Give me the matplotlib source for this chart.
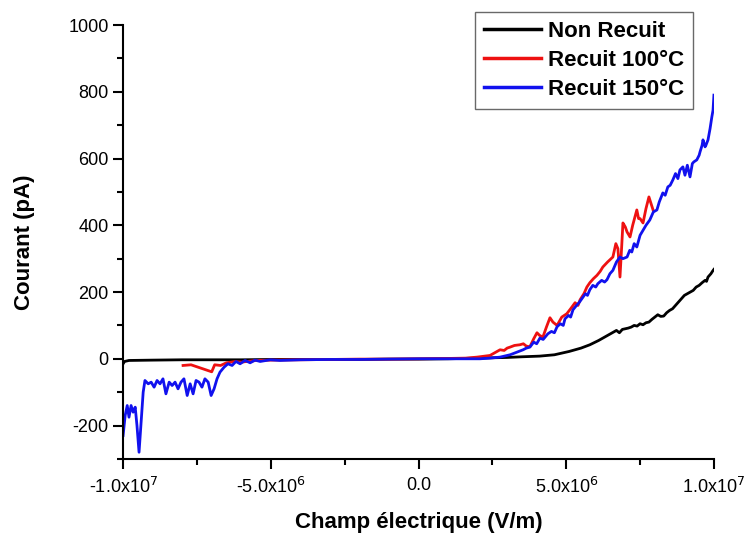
import matplotlib
matplotlib.use('Agg')
import matplotlib.pyplot as plt
from matplotlib.ticker import MultipleLocator

plt.rcParams['font.family'] = ['Liberation Sans', 'DejaVu Sans']
plt.rcParams['axes.unicode_minus'] = False

# field values are in units of 1e6 V/m, current in pA
x_non = [-10.0, -9.95, -9.8, -9.0, -8.0, -7.0, -6.0, -5.0, -4.0, -3.0, -2.0, -1.0, 0.0,
         1.0, 2.0, 3.0, 3.5, 4.1, 4.6, 5.1, 5.5, 5.8, 6.1, 6.4, 6.6, 6.7, 6.8, 6.9, 7.0,
         7.1, 7.2, 7.3, 7.4, 7.5, 7.6, 7.7, 7.8, 7.9, 8.0, 8.1, 8.2, 8.3, 8.4, 8.5, 8.6,
         8.7, 8.8, 8.9, 9.0, 9.1, 9.2, 9.3, 9.4, 9.5, 9.6, 9.7, 9.75, 9.8, 9.9, 9.95, 10.0]
y_non = [-15, -8, -5, -4, -3, -3, -3, -2, -2, -2, -2, -1, -1,
         0, 2, 4, 6, 8, 12, 22, 32, 42, 55, 70, 80, 85, 78, 88, 90,
         92, 95, 100, 98, 105, 102, 108, 110, 118, 125, 132, 127, 128, 138, 145, 150,
         160, 170, 180, 190, 195, 200, 205, 215, 220, 228, 235, 232, 245, 255, 262, 268]

x_100 = [-7.97, -7.7, -7.4, -7.2, -7.0, -6.9, -6.7, -6.5, -6.2, -6.0, -5.5, -5.0, -4.0,
         -3.0, -2.0, -1.0, 0.0, 1.0, 1.6, 1.98, 2.42, 2.76, 2.90, 3.00, 3.10, 3.25, 3.43,
         3.55, 3.65, 3.77, 3.90, 4.01, 4.10, 4.21, 4.33, 4.45, 4.55, 4.69, 4.85, 5.02,
         5.15, 5.30, 5.40, 5.47, 5.60, 5.70, 5.80, 5.92, 6.04, 6.15, 6.24, 6.40, 6.58,
         6.68, 6.75, 6.82, 6.88, 6.92, 7.00, 7.06, 7.16, 7.25, 7.39, 7.45, 7.50, 7.60,
         7.70, 7.80, 7.94]
y_100 = [-20, -18, -27, -33, -39, -18, -20, -12, -8, -10, -5, -4, -3,
         -2, -1, -1, 0, 1, 2, 5, 10, 27, 25, 32, 35, 40, 42,
         45, 38, 36, 60, 78, 70, 65, 95, 123, 110, 100, 125, 135,
         150, 168, 160, 177, 195, 215, 228, 240, 250, 262, 275, 290, 305,
         345, 330, 245, 340, 407, 395, 380, 365, 400, 446, 420, 420, 407,
         450, 485, 446]

x_150 = [-10.0, -9.93, -9.86, -9.80, -9.73, -9.66, -9.59, -9.53, -9.46, -9.39, -9.32,
         -9.26, -9.15, -9.05, -8.95, -8.85, -8.75, -8.65, -8.55, -8.44, -8.34, -8.24,
         -8.14, -8.04, -7.94, -7.83, -7.73, -7.63, -7.53, -7.43, -7.33, -7.23, -7.12,
         -7.02, -6.92, -6.82, -6.72, -6.58, -6.45, -6.31, -6.18, -6.04, -5.87, -5.70,
         -5.53, -5.36, -5.02, -4.69, -4.0, -3.0, -2.0, -1.0, 0.0, 1.0, 2.08, 2.42,
         2.76, 3.10, 3.54, 3.65, 3.77, 3.90, 4.00, 4.11, 4.22, 4.38, 4.50, 4.60, 4.69,
         4.80, 4.90, 4.96, 5.08, 5.15, 5.23, 5.35, 5.45, 5.53, 5.65, 5.72, 5.80, 5.90,
         6.00, 6.07, 6.20, 6.30, 6.38, 6.48, 6.58, 6.70, 6.82, 6.92, 7.06, 7.15, 7.22,
         7.30, 7.39, 7.50, 7.60, 7.70, 7.83, 7.95, 8.07, 8.15, 8.27, 8.35, 8.44, 8.52,
         8.61, 8.70, 8.78, 8.85, 8.95, 9.02, 9.10, 9.19, 9.27, 9.32, 9.42, 9.50, 9.53,
         9.60, 9.63, 9.70, 9.73, 9.80, 9.87, 9.93, 9.97, 10.0]
y_150 = [-230, -170, -140, -175, -140, -160, -145, -200, -280, -190, -100,
         -65, -75, -70, -85, -65, -75, -60, -105, -70, -80, -70,
         -90, -70, -60, -110, -75, -105, -65, -70, -85, -60, -70,
         -110, -90, -60, -40, -25, -15, -20, -8, -15, -5, -12,
         -4, -8, -3, -5, -3, -2, -2, -1, 0, 0, 0, 2,
         5, 12, 27, 32, 35, 50, 45, 62, 58, 75, 82, 78, 96,
         105, 100, 120, 130, 125, 147, 160, 170, 180, 195, 190, 207, 220,
         215, 225, 235, 230, 237, 255, 265, 290, 305, 300, 305, 325, 320,
         345, 335, 370, 385, 400, 416, 440, 446, 470, 497, 490, 515, 520,
         536, 555, 540, 566, 575, 550, 580, 545, 585, 590, 596, 610, 620,
         640, 656, 635, 640, 656, 690, 725, 745, 790]

fig = plt.figure(figsize=(7.46, 5.33), dpi=100)
ax = fig.add_axes([0.165, 0.139, 0.792, 0.814])

ax.plot([v * 1e6 for v in x_non], y_non, color='black', lw=2, label='Non Recuit')
ax.plot([v * 1e6 for v in x_100], y_100, color='#ee1111', lw=2, label='Recuit 100°C')
ax.plot([v * 1e6 for v in x_150], y_150, color='#1111ee', lw=2, label='Recuit 150°C')

ax.set_xlim(-1e7, 1e7)
ax.set_ylim(-300, 1000)
ax.set_xticks([-1e7, -5e6, 0, 5e6, 1e7])
ax.set_xticklabels(['-1.0x10$^7$', '-5.0x10$^6$', '0.0', '5.0x10$^6$', '1.0x10$^7$'])
ax.xaxis.set_minor_locator(MultipleLocator(2.5e6))
ax.yaxis.set_major_locator(MultipleLocator(200))
ax.yaxis.set_minor_locator(MultipleLocator(100))

for s in ['top', 'right']:
    ax.spines[s].set_visible(False)
for s in ['left', 'bottom']:
    ax.spines[s].set_linewidth(1.5)
ax.tick_params(which='major', direction='out', length=7, width=1.5, labelsize=13)
ax.tick_params(axis='x', which='major', pad=6)
ax.tick_params(which='minor', direction='out', length=4, width=1.5)

ax.set_xlabel('Champ électrique (V/m)', fontsize=16, fontweight='bold', labelpad=11)
ax.set_ylabel('Courant (pA)', fontsize=16, fontweight='bold', labelpad=24)

leg = fig.legend(loc='upper right', bbox_to_anchor=(0.929, 0.977), bbox_transform=fig.transFigure,
                 prop={'size': 16, 'weight': 'bold'}, fancybox=False, edgecolor='#444444',
                 handlelength=2.6, handletextpad=0.3, labelspacing=0.35, borderpad=0.4,
                 borderaxespad=0)
leg.get_frame().set_linewidth(1.0)
for line in leg.get_lines():
    line.set_linewidth(2.5)

plt.savefig('out.png', dpi=100)
